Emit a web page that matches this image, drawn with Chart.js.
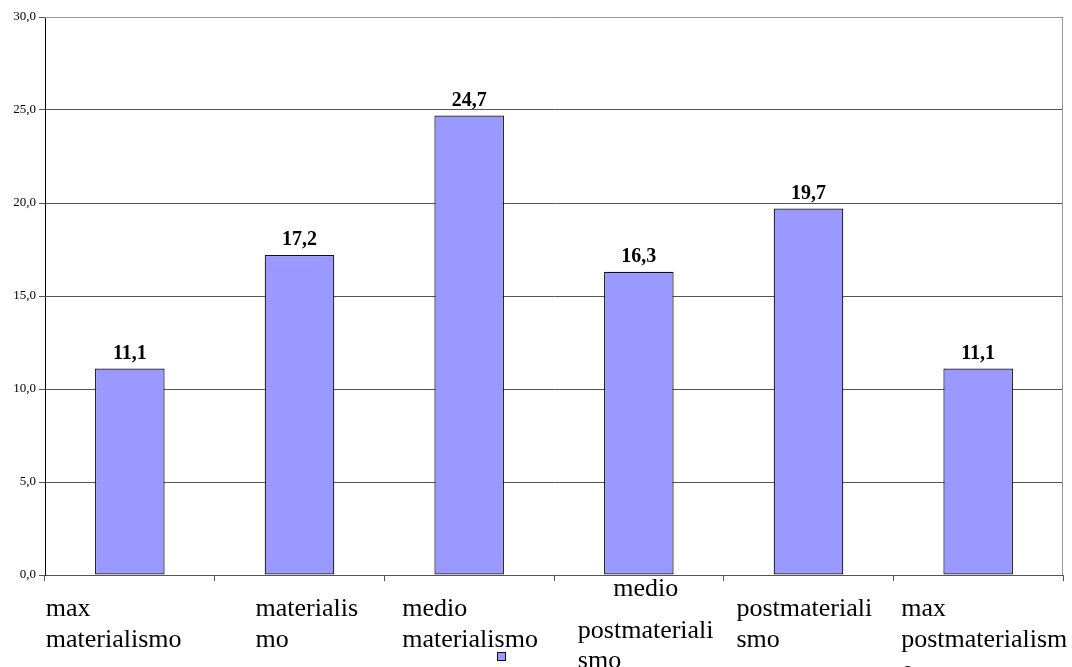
<!DOCTYPE html>
<html>
<head>
<meta charset="utf-8">
<style>
  html, body { margin: 0; padding: 0; background: #ffffff; }
  #wrap { width: 1072px; height: 667px; position: relative; }
</style>
<script src="https://cdn.jsdelivr.net/npm/chart.js@4.4.1/dist/chart.umd.min.js"></script>
</head>
<body>
<div id="wrap"><canvas id="chart" width="1072" height="667"></canvas></div>
<script>
// Category labels, already split into the lines they are shown on
const categories = [
  ['max', 'materialismo'],
  ['materialis', 'mo'],
  ['medio', 'materialismo'],
  ['medio', 'postmateriali', 'smo'],
  ['postmateriali', 'smo'],
  ['max', 'postmaterialism', 'o']
];
const values = [11.1, 17.2, 24.7, 16.3, 19.7, 11.1];
const yTicks = [0, 5, 10, 15, 20, 25, 30];

const BAR_FILL = '#9999FF';
const BAR_EDGE = '#111111';
const SERIF = '"Liberation Serif", "Times New Roman", serif';

// Placement of each wrapped category label below the axis
const labelLayout = [
  { dx: -84, baselines: [41, 72, 103] },
  { dx: -44, baselines: [41, 72, 103] },
  { dx: -67, baselines: [41, 72, 103] },
  { dx: -61, baselines: [21, 63, 93], centerFirst: true },
  { dx: -72, baselines: [41, 72, 103] },
  { dx: -77, baselines: [41, 72, 103] }
];

const fmt = v => v.toFixed(1).replace('.', ',');

const decorations = {
  id: 'decorations',
  afterDraw(chart) {
    const ctx = chart.ctx;
    const area = chart.chartArea;
    const xs = chart.scales.x;
    const meta = chart.getDatasetMeta(0);

    ctx.save();
    // plot frame: top and right edges
    ctx.strokeStyle = '#999999';
    ctx.lineWidth = 1;
    ctx.beginPath();
    ctx.moveTo(area.left, area.top + 0.5);
    ctx.lineTo(area.right - 0.5, area.top + 0.5);
    ctx.lineTo(area.right - 0.5, area.bottom);
    ctx.stroke();

    // value labels above bars
    ctx.fillStyle = '#000000';
    ctx.font = 'bold 20px ' + SERIF;
    ctx.textAlign = 'center';
    ctx.textBaseline = 'alphabetic';
    meta.data.forEach((bar, i) => {
      ctx.fillText(fmt(values[i]), bar.x, bar.y - 10);
    });

    // category labels
    ctx.font = '26px ' + SERIF;
    ctx.textBaseline = 'alphabetic';
    categories.forEach((lines, i) => {
      const cx = xs.getPixelForValue(i);
      const lay = labelLayout[i];
      const left = cx + lay.dx;
      const blockW = Math.max(...lines.map(l => ctx.measureText(l).width));
      lines.forEach((line, j) => {
        const y = area.bottom + lay.baselines[j];
        if (j === 0 && lay.centerFirst) {
          ctx.textAlign = 'center';
          ctx.fillText(line, left + blockW / 2, y);
        } else {
          ctx.textAlign = 'left';
          ctx.fillText(line, left, y);
        }
      });
    });

    // legend key (series has no name)
    ctx.fillStyle = BAR_FILL;
    ctx.fillRect(497.5, 652.5, 8, 8);
    ctx.strokeStyle = BAR_EDGE;
    ctx.strokeRect(497.5, 652.5, 8, 8);
    ctx.restore();
  }
};

new Chart(document.getElementById('chart'), {
  type: 'bar',
  data: {
    labels: categories.map(l => l.join(' ')),
    datasets: [{
      label: '',
      data: values,
      backgroundColor: BAR_FILL,
      borderColor: BAR_EDGE,
      borderWidth: 1.2,
      borderSkipped: false,
      categoryPercentage: 1.0,
      barPercentage: 0.41
    }]
  },
  options: {
    responsive: false,
    animation: false,
    devicePixelRatio: 1,
    layout: { padding: { top: 17, right: 9, left: 0, bottom: 0 } },
    plugins: {
      legend: { display: false },
      tooltip: { enabled: false }
    },
    scales: {
      x: {
        offset: true,
        afterFit(scale) { scale.height = 92; },
        ticks: { display: false },
        grid: {
          offset: true,
          drawOnChartArea: false,
          drawTicks: true,
          tickLength: 6,
          color: '#555555'
        },
        border: { display: true, color: '#555555', width: 1 }
      },
      y: {
        min: 0,
        max: 30,
        afterFit(scale) { scale.width = 45; },
        afterBuildTicks(scale) { scale.ticks = yTicks.map(v => ({ value: v })); },
        ticks: {
          color: '#000000',
          font: { family: SERIF, size: 13 },
          padding: 3,
          callback: v => fmt(v)
        },
        grid: {
          color: '#555555',
          lineWidth: 1,
          tickLength: 6
        },
        border: { display: true, color: '#000000', width: 1 }
      }
    }
  },
  plugins: [decorations]
});
</script>
</body>
</html>
